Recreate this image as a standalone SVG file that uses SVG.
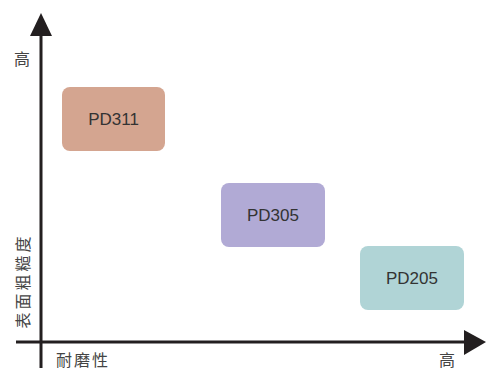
<svg xmlns="http://www.w3.org/2000/svg" width="486" height="371" viewBox="0 0 486 371">
<style>
.ax{stroke:#231f20;stroke-width:3;fill:none}
.ah{fill:#231f20}
.lbl{font-family:"Noto Sans CJK SC","Noto Sans CJK JP",sans-serif;fill:#444;font-size:16px;text-anchor:middle;dominant-baseline:central}
.nt{font-family:"Liberation Sans",Arial,sans-serif;font-size:17px;fill:#333;text-anchor:middle;dominant-baseline:central}
</style>
<rect width="486" height="371" fill="#fff"/>
<g id="connectors">
<line class="ax" x1="41" y1="30" x2="41" y2="368"/>
<polygon class="ah" points="41,13 30,36 52,36"/>
<line class="ax" x1="16" y1="342" x2="470" y2="342"/>
<polygon class="ah" points="486,342 464,330 464,355"/>
</g>
<g id="labels">
<text class="lbl" x="22" y="58">高</text>
<text class="lbl" x="0" y="0" transform="translate(22,281) rotate(-90)" letter-spacing="3">表面粗糙度</text>
<text class="lbl" x="83" y="359" letter-spacing="2">耐磨性</text>
<text class="lbl" x="447" y="359">高</text>
</g>
<g id="PD311">
<rect x="62" y="87" width="103" height="64" rx="8" fill="#d4a590"/>
<text class="nt" x="113.5" y="119">PD311</text>
</g>
<g id="PD305">
<rect x="221" y="183" width="104" height="64" rx="8" fill="#b1aad5"/>
<text class="nt" x="273" y="215">PD305</text>
</g>
<g id="PD205">
<rect x="360" y="246" width="104" height="64" rx="8" fill="#b0d4d6"/>
<text class="nt" x="412" y="278">PD205</text>
</g>
</svg>
